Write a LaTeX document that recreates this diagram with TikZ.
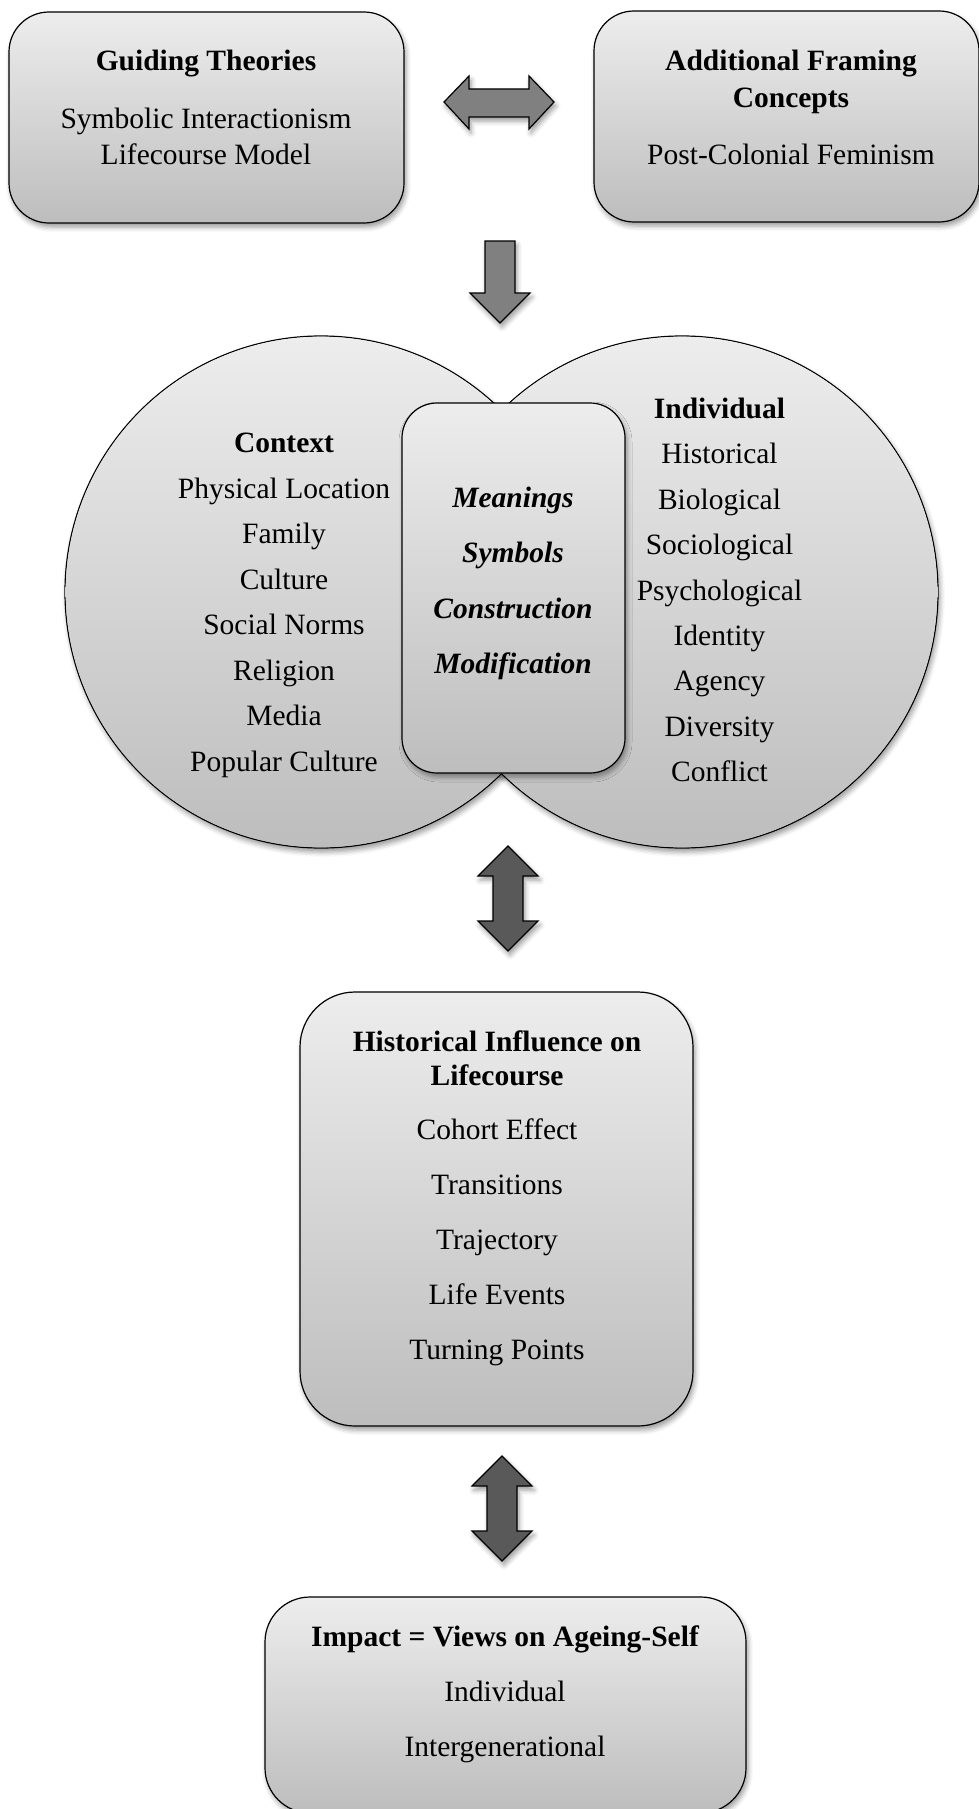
\documentclass[tikz,border=0pt]{standalone}
\usepackage{fontspec}
\setmainfont{Liberation Serif}
\usetikzlibrary{shadows.blur,calc}

\definecolor{boxtop}{HTML}{EDEDED}
\definecolor{boxbot}{HTML}{BDBDBD}
\definecolor{arrlight}{HTML}{808080}
\definecolor{arrdark}{HTML}{595959}

\tikzset{
  shadebox/.style={top color=boxtop, bottom color=boxbot},
  softshadow/.style={blur shadow={shadow xshift=2pt, shadow yshift=-4pt, shadow blur radius=5pt, shadow opacity=40}},
  panel/.style={draw=black, line width=1.2pt, shadebox, softshadow, inner sep=0pt, rectangle},
  lbl/.style={inner sep=0pt, font=\fontsize{29.5}{35}\selectfont, text height=21pt, text depth=0pt},
  hd/.style={lbl, font=\fontsize{29.5}{35}\selectfont\bfseries},
  hdit/.style={lbl, font=\fontsize{29.5}{35}\selectfont\bfseries\itshape},
  bigarrow/.style={draw=black, line width=1.2pt, fill=#1, softshadow},
}

\begin{document}
\begin{tikzpicture}[x=1pt,y=-1pt]
\useasboundingbox (0,0) rectangle (979,1809);

% ---------- top boxes ----------
\node[panel, rounded corners=40pt, minimum width=395pt, minimum height=211pt] (gt) at (206.5,117.5) {};
\node[hd]  (gtT) at (206,60)  {Guiding Theories};
\node[lbl] (gt1) at (206,118) {Symbolic Interactionism};
\node[lbl] (gt2) at (206,154) {Lifecourse Model};

\node[panel, rounded corners=40pt, minimum width=385pt, minimum height=211pt] (afc) at (786.5,116.5) {};
\node[hd]  (afcT1) at (791,60)  {Additional Framing};
\node[hd]  (afcT2) at (791,97)  {Concepts};
\node[lbl] (afc1)  at (791,154) {Post-Colonial Feminism};

% horizontal double arrow between the top boxes
\coordinate (ha) at ($(gt.east)!0.5!(afc.west)$);
\coordinate (hac) at (ha |- 0,102);
\draw[bigarrow=arrlight] ($(hac)+(-55,0)$) -- ++(25,-26) -- ++(0,13) -- ++(60,0) -- ++(0,-13)
  -- ++(25,26) -- ++(-25,27) -- ++(0,-12) -- ++(-60,0) -- ++(0,12) -- cycle;

% down arrow
\coordinate (da) at (500,241);
\draw[bigarrow=arrlight] ($(da)+(-15,0)$) -- ++(30,0) -- ++(0,52) -- ++(15,0) -- ++(-30,30)
  -- ++(-30,-30) -- ++(15,0) -- cycle;

% ---------- Venn circles ----------
\coordinate (cl) at (321,592);
\coordinate (cr) at (682,592);
\path[shadebox, draw=black, line width=1.2pt, softshadow] (cl) circle[radius=256];
\path[shadebox, draw=black, line width=1.2pt, softshadow] (cr) circle[radius=256];
\path[shadebox] (cl) circle[radius=255.3];
\path[shadebox] (cr) circle[radius=255.3];

\node[panel, rounded corners=35pt, minimum width=223pt, minimum height=370pt] (mid) at (513.5,588) {};
\node[hdit] (m1) at (513,497) {Meanings};
\node[hdit] (m2) at (513,552) {Symbols};
\node[hdit] (m3) at (513,608) {Construction};
\node[hdit] (m4) at (513,663) {Modification};

\node[hd] (ctxT) at (284,442) {Context};
\foreach \t [count=\i] in {Physical Location, Family, Culture, Social Norms, Religion, Media, Popular Culture}
  \node[lbl] (ctx\i) at (284,{442+45.57*\i}) {\t};

\node[hd] (indT) at (719.5,408) {Individual};
\foreach \t [count=\i] in {Historical, Biological, Sociological, Psychological, Identity, Agency, Diversity, Conflict}
  \node[lbl] (ind\i) at (719.5,{408+45.4*\i}) {\t};

% vertical double arrow 1
\coordinate (va1) at (508,846);
\draw[bigarrow=arrdark] (va1) -- ++(30,30) -- ++(-15,0) -- ++(0,45) -- ++(15,0) -- ++(-30,30)
  -- ++(-30,-30) -- ++(15,0) -- ++(0,-45) -- ++(-15,0) -- cycle;

% ---------- Historical box ----------
\node[panel, rounded corners=55pt, minimum width=393pt, minimum height=434pt] (hil) at (496.5,1209) {};
\node[hd] (hilT1) at (497,1041) {Historical Influence on};
\node[hd] (hilT2) at (497,1075) {Lifecourse};
\foreach \t [count=\i] in {Cohort Effect, Transitions, Trajectory, Life Events, Turning Points}
  \node[lbl] (hil\i) at (497,{1074.5+54.8*\i}) {\t};

% vertical double arrow 2
\coordinate (va2) at (502,1456);
\draw[bigarrow=arrdark] (va2) -- ++(30,30) -- ++(-15,0) -- ++(0,45) -- ++(15,0) -- ++(-30,30)
  -- ++(-30,-30) -- ++(15,0) -- ++(0,-45) -- ++(-15,0) -- cycle;

% ---------- Impact box ----------
\node[panel, rounded corners=45pt, minimum width=481pt, minimum height=216pt] (imp) at (505.5,1705) {};
\node[hd]  (impT) at (505,1636) {Impact = Views on Ageing-Self};
\node[lbl] (imp1) at (505,1691) {Individual};
\node[lbl] (imp2) at (505,1746) {Intergenerational};
\end{tikzpicture}
\end{document}
